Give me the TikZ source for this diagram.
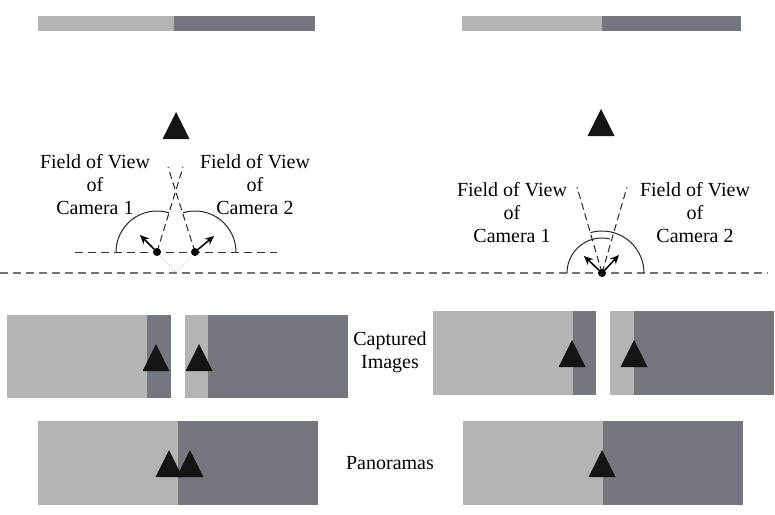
\documentclass[tikz,border=0pt]{standalone}
\usepackage{fontspec}
\setmainfont{Liberation Serif}
\usetikzlibrary{arrows.meta}
\definecolor{lightshade}{HTML}{B3B4B6}
\definecolor{darkshade}{HTML}{75777E}
\tikzset{
  landmark/.pic={\fill[black!92] (-13.5,0) -- (13.5,0) -- (0,-27) -- cycle;},
  horizon/.style={draw=black!55,line width=1.1pt,dash pattern=on 8pt off 5pt},
  camline/.style={draw=black!80,line width=1pt,dash pattern=on 8pt off 5pt},
  fovline/.style={draw=black!85,line width=1pt,dash pattern=on 7pt off 4pt},
  fovarc/.style={draw=black!85,line width=1pt},
  look/.style={line width=1.5pt,-{Stealth[length=9pt,width=8pt]}},
  trace/.style={draw=black!45,line width=0.6pt,dotted},
  camdot/.style={fill=black}
}
\begin{document}
\begin{tikzpicture}[x=1pt,y=-1pt]
\useasboundingbox (0,0) rectangle (775,514);
\foreach \xa/\xs/\xb/\ya/\yb in {38/174/315/16/31, 462/602/741/16/31,
    7/147/171/315/398, 185/208/348/315/398, 433/573/596/311/395, 610/634/774/311/395,
    38/178/318/421/505, 463/603/743/421/505} {
  \fill[lightshade] (\xa,\ya) rectangle (\xs,\yb);
  \fill[darkshade] (\xs,\ya) rectangle (\xb,\yb);
}
\foreach \px/\py in {176/139, 601/136, 156/371, 199/371, 572/367, 634/367, 169/477, 190/477, 602/477}
  \pic at (\px,\py) {landmark};
\coordinate (hl) at (0,273);
\coordinate (hr) at (768,273);
\draw[horizon] (hl) -- (hr);
\coordinate (lcl) at (75,252);
\coordinate (lcr) at (277,252);
\draw[camline] (lcl) -- (lcr);
\coordinate (cam1) at (157,252);
\coordinate (cam2) at (195,252);
\coordinate (meet) at (176,273);
\coordinate (fov1) at (183,167);
\coordinate (fov2) at (168,167);
\coordinate (dir1) at (140,235);
\coordinate (dir2) at (214,236);
\draw[trace] (cam1) -- (meet) -- (cam2);
\draw[fovarc] (cam1) ++(-41,0) arc[start angle=180,end angle=287,radius=41];
\draw[fovarc] (cam2) ++(41,0) arc[start angle=0,end angle=-107,radius=41];
\draw[fovline] (cam1) -- (fov1);
\draw[fovline] (cam2) -- (fov2);
\draw[look] (cam1) -- (dir1);
\draw[look] (cam2) -- (dir2);
\fill[camdot] (cam1) circle (4);
\fill[camdot] (cam2) circle (4);
\coordinate (camb) at (602,273);
\coordinate (fovb1) at (627,187);
\coordinate (fovb2) at (577,187);
\coordinate (dirb1) at (584,256);
\coordinate (dirb2) at (619,255);
\draw[fovarc] (camb) ++(-35,0) arc[start angle=180,end angle=283,radius=35];
\draw[fovarc] (camb) ++(42,0) arc[start angle=0,end angle=-106,radius=42];
\draw[fovline] (camb) -- (fovb1);
\draw[fovline] (camb) -- (fovb2);
\draw[look] (camb) -- (dirb1);
\draw[look] (camb) -- (dirb2);
\fill[camdot] (camb) circle (4);
\begin{scope}[every node/.style={align=center,inner sep=0pt,font=\fontsize{20}{23}\selectfont}]
  \node (lab1) at (95,185) {Field of View\\of\\Camera 1};
  \node (lab2) at (255,185) {Field of View\\of\\Camera 2};
  \node (labb1) at (512,213) {Field of View\\of\\Camera 1};
  \node (labb2) at (695,213) {Field of View\\of\\Camera 2};
  \node (capt) at (390,352) {Captured\\Images};
  \node (pano) at (390,463) {Panoramas};
\end{scope}
\end{tikzpicture}
\end{document}
